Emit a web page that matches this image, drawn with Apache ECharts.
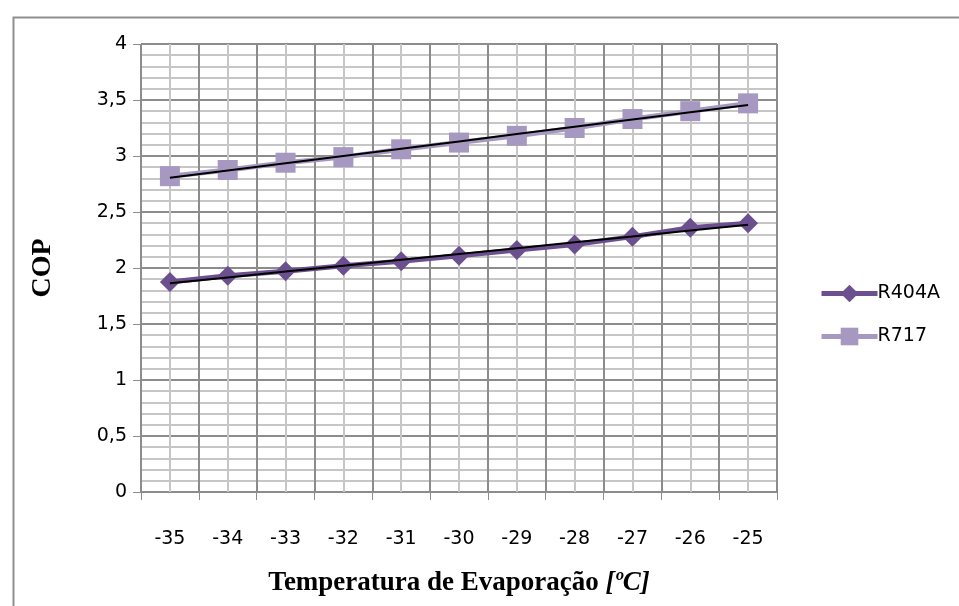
<!DOCTYPE html>
<html>
<head>
<meta charset="utf-8">
<script src="https://cdn.jsdelivr.net/npm/echarts@6/dist/echarts.min.js"></script>
<style>html,body{margin:0;padding:0;background:#fff}#c{width:959px;height:606px}</style>
</head>
<body>
<div id="c"></div>
<script>
const categories = ['-35','-34','-33','-32','-31','-30','-29','-28','-27','-26','-25'];
const r404a = [1.875, 1.93, 1.97, 2.02, 2.06, 2.11, 2.16, 2.21, 2.28, 2.36, 2.40];
const r717 = [2.82, 2.875, 2.94, 2.99, 3.06, 3.12, 3.18, 3.25, 3.33, 3.40, 3.47];
const yTicks = ['0','0,5','1','1,5','2','2,5','3','3,5','4'];

function trend(vals) {
  const n = vals.length;
  let sx=0, sy=0, sxx=0, sxy=0;
  vals.forEach((v,i)=>{sx+=i;sy+=v;sxx+=i*i;sxy+=i*v;});
  const b = (n*sxy - sx*sy)/(n*sxx - sx*sx);
  const a = (sy - b*sx)/n;
  return vals.map((v,i)=>a+b*i);
}

const chart = echarts.init(document.getElementById('c'), null, {renderer:'canvas'});
const dark = '#8c8c8c', light = '#c6c6c6';
const sans = 'DejaVu Sans';
chart.setOption({
  animation: false,
  backgroundColor: '#fff',
  graphic: [{
    type: 'rect', left: 11, top: 15, z: -1,
    shape: {width: 960, height: 600},
    style: {fill: 'none', stroke: '#8f8f8f', lineWidth: 2}
  }],
  grid: {left: 141, right: 182, top: 44, bottom: 114, containLabel: false},
  legend: {
    orient: 'vertical', left: 814, top: 279,
    itemWidth: 56, itemHeight: 22, itemGap: 24,
    data: ['R404A','R717'],
    lineStyle: {width: 5},
    textStyle: {fontFamily: sans, fontSize: 19, color: '#000', padding: [0,0,0,-5]}
  },
  xAxis: [{
    type: 'category', data: categories, boundaryGap: true, position: 'bottom',
    axisLine: {lineStyle: {color: dark, width: 1}},
    axisTick: {show: true, alignWithLabel: false, interval: 0, length: 8, lineStyle: {color: dark}},
    axisLabel: {fontFamily: sans, fontSize: 19, color: '#000', margin: 38, interval: 0},
    splitLine: {show: false},
    name: '{b|Temperatura de Evaporação }{bi|[ºC]}',
    nameLocation: 'middle', nameGap: 78,
    nameTextStyle: {rich: {
      b: {fontFamily: 'Liberation Serif', fontWeight: 'bold', fontSize: 27, color: '#000'},
      bi: {fontFamily: 'Liberation Serif', fontWeight: 'bold', fontStyle: 'italic', fontSize: 27, color: '#000'}
    }}
  }, {
    type: 'value', min: -35.5, max: -24.5, interval: 0.5, position: 'bottom',
    axisLine: {show: false}, axisTick: {show: false}, axisLabel: {show: false},
    splitLine: {show: true, lineStyle: {color: [dark, light], width: 2}}
  }],
  yAxis: {
    type: 'value', min: 0, max: 4, interval: 0.5,
    axisLine: {show: true, lineStyle: {color: dark}},
    axisTick: {show: true, length: 8, lineStyle: {color: dark}},
    axisLabel: {fontFamily: sans, fontSize: 19, color: '#000', margin: 14,
      formatter: (v) => yTicks[Math.round(v*2)]},
    splitLine: {show: true, lineStyle: {color: dark, width: 2}},
    minorTick: {show: false, splitNumber: 5},
    minorSplitLine: {show: true, lineStyle: {color: light, width: 2}},
    name: 'COP', nameLocation: 'middle', nameGap: 84, nameRotate: 90,
    nameTextStyle: {fontFamily: 'Liberation Serif', fontWeight: 'bold', fontSize: 28, color: '#000'}
  },
  series: [
    {name: 'R404A', type: 'line', data: r404a, xAxisIndex: 0, color: '#6b4f8e',
     symbol: 'diamond', symbolSize: 20, lineStyle: {width: 5, color: '#6b4f8e'},
     itemStyle: {color: '#6b4f8e'}, z: 3},
    {name: 'R717', type: 'line', data: r717, xAxisIndex: 0, color: '#a798c2',
     symbol: 'rect', symbolSize: 20, lineStyle: {width: 5, color: '#a798c2'},
     itemStyle: {color: '#a798c2'}, z: 3},
    {name: 'trend404', type: 'line', data: trend(r404a), xAxisIndex: 0, symbol: 'none',
     lineStyle: {width: 2, color: '#000'}, z: 4, silent: true},
    {name: 'trend717', type: 'line', data: trend(r717), xAxisIndex: 0, symbol: 'none',
     lineStyle: {width: 2, color: '#000'}, z: 4, silent: true}
  ]
});
</script>
</body>
</html>
